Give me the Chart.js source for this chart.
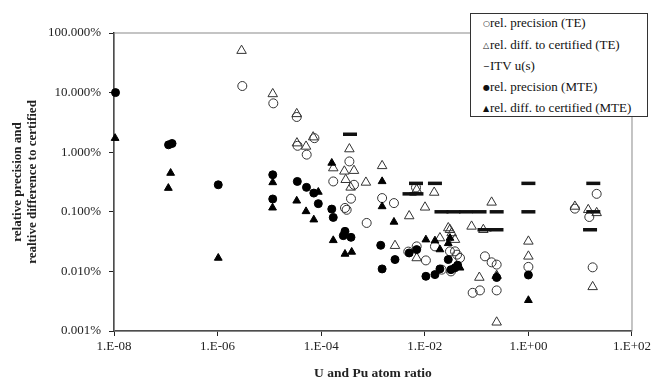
<!DOCTYPE html>
<html>
<head>
<meta charset="utf-8">
<script src="https://cdn.jsdelivr.net/npm/chart.js@4/dist/chart.umd.min.js"></script>
<style>
  html, body { margin: 0; padding: 0; background: #fff; }
  #wrap { position: relative; width: 654px; height: 382px; }
  #legend {
    position: absolute; left: 470px; top: 13px; width: 176px; height: 102px;
    border: 1px solid #333; background: #fff;
    font: 13px 'Liberation Serif', serif; color: #111;
  }
  #legend div { position: absolute; left: 12px; white-space: nowrap; line-height: 14px; }
  #legend .sym { display: inline-block; width: 7px; font: 8px 'DejaVu Sans', sans-serif; vertical-align: 1px; }
</style>
</head>
<body>
<div id="wrap">
  <canvas id="chart" width="654" height="382"></canvas>
  <div id="legend">
    <div style="top:2px"><span class="sym">○</span>rel. precision (TE)</div>
    <div style="top:24px"><span class="sym">△</span>rel. diff. to certified (TE)</div>
    <div style="top:45px"><span class="sym">−</span>ITV u(s)</div>
    <div style="top:66px"><span class="sym">●</span>rel. precision (MTE)</div>
    <div style="top:87px"><span class="sym">▲</span>rel. diff. to certified (MTE)</div>
  </div>
</div>
<script>
// axis ticks
const xTicks = [1e-8, 1e-6, 1e-4, 1e-2, 1, 100];
const xTickLabels = ['1.E-08', '1.E-06', '1.E-04', '1.E-02', '1.E+00', '1.E+02'];
const yTicks = [0.001, 0.01, 0.1, 1, 10, 100];
const yTickLabels = ['0.001%', '0.010%', '0.100%', '1.000%', '10.000%', '100.000%'];

// rel. precision (TE)  — y in %
const precTeX = [3.0e-6, 1.19e-5, 3.37e-5, 3.5e-5, 5.25e-5, 7.4e-5, 3.5e-4, 1.71e-4, 4.3e-4, 3.76e-4,
  2.88e-4, 3.1e-4, 7.55e-4, 1.5e-3, 2.54e-3, 6.76e-3, 4.8e-3, 6.97e-3, 1.05e-2, 1.57e-2,
  2.12e-2, 3.06e-2, 3.83e-2, 4.2e-2, 4.78e-2, 3.2e-2, 0.145, 0.195, 0.244, 0.084,
  0.116, 0.244, 1.0, 7.9, 15, 20.8, 17.4];
const precTeY = [12.9, 6.6, 3.9, 1.28, 0.91, 1.72, 0.70, 0.323, 0.284, 0.166,
  0.116, 0.108, 0.065, 0.17, 0.14, 0.256, 0.0215, 0.0263, 0.0153, 0.0263,
  0.0107, 0.0217, 0.0217, 0.0191, 0.0168, 0.0100, 0.0179, 0.0142, 0.013, 0.00437,
  0.0048, 0.0048, 0.0119, 0.113, 0.0818, 0.2, 0.0117];

// rel. diff. to certified (TE)
const diffTeX = [2.9e-6, 1.16e-5, 3.37e-5, 3.4e-5, 5.1e-5, 7.0e-5, 3.5e-4, 2.8e-4, 4.3e-4, 2.97e-4,
  3.7e-4, 7.3e-4, 1.71e-4, 1.5e-3, 6.97e-3, 1.52e-2, 1.01e-2, 5.0e-3, 2.66e-3, 6.97e-3,
  1.96e-2, 2.84e-2, 3.06e-2, 3.3e-2, 3.83e-2, 0.080, 0.135, 0.195, 0.113, 0.244,
  0.244, 1.0, 1.0, 7.9, 14.3, 20.8, 17.4];
const diffTeY = [50.6, 9.5, 4.4, 1.42, 1.25, 1.79, 1.13, 0.478, 0.49, 0.345,
  0.257, 0.311, 0.542, 0.59, 0.235, 0.211, 0.119, 0.085, 0.027, 0.0168,
  0.0363, 0.0535, 0.050, 0.0441, 0.0341, 0.0569, 0.050, 0.144, 0.0079, 0.0085,
  0.0014, 0.0319, 0.0179, 0.123, 0.108, 0.096, 0.0055];

// ITV u(s)
const itvX = [3.6e-4, 6.76e-3, 1.57e-2, 5.07e-3, 6.9e-3, 0.021, 0.0358, 0.0624, 0.114, 0.244,
  0.142, 0.242, 1.0, 1.0, 17.9, 17.9, 15.5];
const itvY = [2.0, 0.3, 0.3, 0.2, 0.2, 0.1, 0.1, 0.1, 0.1, 0.1,
  0.05, 0.05, 0.3, 0.1, 0.3, 0.1, 0.05];

// rel. precision (MTE)
const precMteX = [1.07e-8, 1.13e-7, 1.32e-7, 1.03e-6, 1.16e-5, 1.16e-5, 3.46e-5, 5.2e-5, 7.2e-5, 8.8e-5,
  1.6e-4, 1.71e-4, 2.88e-4, 2.67e-4, 3.76e-4, 1.41e-3, 2.66e-3, 1.5e-3, 5.0e-3, 6.97e-3,
  1.05e-2, 1.57e-2, 1.96e-2, 2.84e-2, 3.2e-2, 3.83e-2, 4.3e-2, 0.244, 1.0];
const precMteY = [10, 1.33, 1.40, 0.284, 0.418, 0.164, 0.323, 0.257, 0.206, 0.137,
  0.111, 0.0805, 0.047, 0.0398, 0.0373, 0.0274, 0.0158, 0.011, 0.0204, 0.0232,
  0.00828, 0.00883, 0.011, 0.0158, 0.0107, 0.0115, 0.0127, 0.0079, 0.0087];

// rel. diff. to certified (MTE)
const diffMteX = [1.05e-8, 1.24e-7, 1.12e-7, 1.03e-6, 1.16e-5, 1.15e-5, 3.37e-5, 5.1e-5, 7.2e-5, 8.8e-5,
  1.6e-4, 1.71e-4, 2.88e-4, 3.88e-4, 1.5e-3, 1.5e-3, 2.54e-3, 1.05e-2, 1.57e-2, 3.06e-2,
  2.84e-2, 4.78e-2, 0.244, 1.0, 1.96e-2];
const diffMteY = [1.72, 0.447, 0.25, 0.0168, 0.311, 0.117, 0.153, 0.1016, 0.0738, 0.215,
  0.66, 0.0332, 0.0196, 0.0212, 0.324, 0.123, 0.0676, 0.0341, 0.0328, 0.0363,
  0.0296, 0.0115, 0.0083, 0.00328, 0.0233];

const pts = (xs, ys) => xs.map((x, i) => ({ x, y: ys[i] }));

// grey frame around the plot area (top/right edges)
const plotFrame = {
  id: 'plotFrame',
  beforeDatasetsDraw(chart) {
    const { ctx, chartArea: a } = chart;
    ctx.save();
    ctx.strokeStyle = '#8a8a8a';
    ctx.lineWidth = 1;
    ctx.strokeRect(a.left, a.top, a.right - a.left, a.bottom - a.top);
    ctx.restore();
  },
};

const serif = "'Liberation Serif', 'Times New Roman', serif";

new Chart(document.getElementById('chart'), {
  type: 'scatter',
  data: {
    datasets: [
      { label: 'rel. precision (TE)', data: pts(precTeX, precTeY), pointStyle: 'circle', pointRadius: 4.5,
        borderColor: '#333', backgroundColor: 'rgba(0,0,0,0)', borderWidth: 1, order: 5, clip: false },
      { label: 'rel. diff. to certified (TE)', data: pts(diffTeX, diffTeY), pointStyle: 'triangle', pointRadius: 5.5,
        borderColor: '#333', backgroundColor: 'rgba(0,0,0,0)', borderWidth: 1, order: 4, clip: false },
      { label: 'ITV u(s)', data: pts(itvX, itvY), pointStyle: 'line', pointRadius: 7,
        borderColor: '#111', backgroundColor: '#111', borderWidth: 3.5, order: 3, clip: false },
      { label: 'rel. precision (MTE)', data: pts(precMteX, precMteY), pointStyle: 'circle', pointRadius: 4,
        borderColor: '#000', backgroundColor: '#000', borderWidth: 1, order: 2, clip: false },
      { label: 'rel. diff. to certified (MTE)', data: pts(diffMteX, diffMteY), pointStyle: 'triangle', pointRadius: 4.5,
        borderColor: '#000', backgroundColor: '#000', borderWidth: 1, order: 1, clip: false },
    ],
  },
  options: {
    responsive: false,
    animation: false,
    events: [],
    layout: { padding: { top: 33, right: 22, left: 0, bottom: 0 } },
    plugins: { legend: { display: false }, tooltip: { enabled: false } },
    scales: {
      x: {
        type: 'logarithmic', min: 1e-8, max: 100,
        afterFit: (s) => { s.height = 51; },
        afterBuildTicks: (s) => { s.ticks = xTicks.map((v) => ({ value: v })); },
        ticks: {
          callback: (v) => xTickLabels[xTicks.indexOf(v)],
          autoSkip: false, maxRotation: 0, padding: 3,
          color: '#222', font: { family: serif, size: 13 },
        },
        grid: { display: true, drawOnChartArea: false, drawTicks: true, tickLength: 5, color: '#222' },
        border: { display: true, color: '#111', width: 1.5 },
        title: {
          display: true, text: 'U and Pu atom ratio', color: '#222',
          font: { family: serif, size: 13.5, weight: 'bold', lineHeight: 1.2 }, padding: { top: 0, bottom: 0 },
        },
      },
      y: {
        type: 'logarithmic', min: 0.001, max: 100,
        afterFit: (s) => { s.width = 114; },
        afterBuildTicks: (s) => { s.ticks = yTicks.map((v) => ({ value: v })); },
        ticks: {
          callback: (v) => yTickLabels[yTicks.indexOf(v)],
          autoSkip: false, padding: 8,
          color: '#222', font: { family: serif, size: 13 },
        },
        grid: { display: true, drawOnChartArea: false, drawTicks: true, tickLength: 5, color: '#222' },
        border: { display: true, color: '#111', width: 1.5 },
        title: {
          display: true, text: ['relative precision and', 'realtive difference to certified'], color: '#222',
          font: { family: serif, size: 13, weight: 'bold', lineHeight: 1.15 }, padding: { top: 10, bottom: 0 },
        },
      },
    },
  },
  plugins: [plotFrame],
});
</script>
</body>
</html>
